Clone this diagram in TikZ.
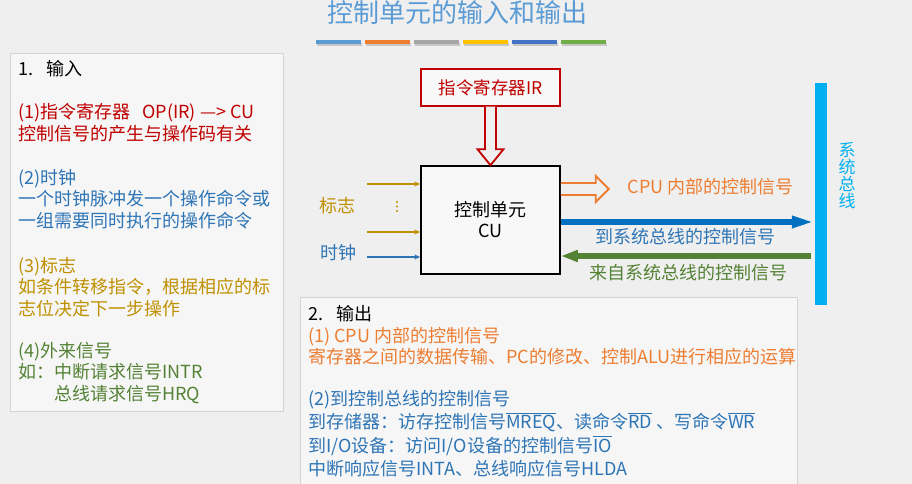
\documentclass[tikz,border=0pt]{standalone}
\usepackage{fontspec}
\setmainfont{Noto Sans CJK SC}
\usepackage{tikz}
\usetikzlibrary{arrows.meta,positioning,calc}
\definecolor{pagebg}{HTML}{EFEFEF}
\definecolor{boxbg}{HTML}{F6F6F6}
\definecolor{boxline}{HTML}{D4D4D4}
\definecolor{titleblue}{HTML}{5B9BD5}
\definecolor{irred}{HTML}{C00000}
\definecolor{clkblue}{HTML}{2E75B6}
\definecolor{flaggold}{HTML}{BF9000}
\definecolor{extgreen}{HTML}{548235}
\definecolor{inorange}{HTML}{ED7D31}
\definecolor{outblue}{HTML}{0070C0}
\definecolor{buscyan}{HTML}{00B0F0}
\definecolor{barblue}{HTML}{5B9BD5}
\definecolor{barorange}{HTML}{ED7D31}
\definecolor{bargray}{HTML}{A5A5A5}
\definecolor{bargold}{HTML}{FFC000}
\definecolor{bardark}{HTML}{4472C4}
\definecolor{bargreen}{HTML}{70AD47}
\newcommand{\sigbar}[1]{\leavevmode\vbox{\hrule height 0.9pt\kern1.2pt\hbox{#1}}}
\tikzset{
  sectbox/.style={draw=boxline,line width=0.9pt},
  bodytext/.style={anchor=base west,inner sep=0pt,align=left,
    font=\fontsize{18}{21.5}\selectfont},
  unitbox/.style={draw=black,line width=1.5pt,fill=white!55!pagebg,align=center,
    minimum width=139pt,minimum height=108pt,font=\fontsize{18}{21}\selectfont},
  regbox/.style={draw=irred,line width=1.5pt,fill=white!55!pagebg,text=irred,
    minimum width=139pt,minimum height=37pt,font=\fontsize{17.5}{21}\selectfont},
  signallabel/.style={inner sep=0pt,font=\fontsize{18}{21}\selectfont},
  busbar/.style={fill=buscyan,inner sep=0pt,minimum width=12pt,minimum height=222pt},
  inputarrow/.style={-{Stealth[length=6pt,width=5pt]},line width=1.8pt},
  hollowarrow/.style={line width=1.8pt,fill=pagebg,line join=miter},
  busarrow/.style={-{Triangle[length=23pt,width=11pt]},line width=6pt,draw=outblue},
  backarrow/.style={-{Triangle[length=17pt,width=11pt]},line width=5.5pt,draw=extgreen}
}
\begin{document}
\begin{tikzpicture}[x=1pt,y=-1pt]
  \useasboundingbox[fill=pagebg] (0,0) rectangle (912,484);
  % title and colour strip
  \node[text=titleblue,font=\fontsize{26}{28}\selectfont] (title) at (457,13) {控制单元的输入和输出};
  \foreach \c [count=\i from 0] in {barblue,barorange,bargray,bargold,bardark,bargreen} {
    \fill[black!22] (316+49*\i+1,43) rectangle ++(44.5,3);
    \fill[\c] (316+49*\i,40) rectangle ++(44.5,4);
  }

  % 1. inputs (multi-line nodes sit on the baseline of their last line)
  \draw[sectbox,fill=boxbg] (10,53) rectangle (283,411);
  \node[bodytext] (inhead) at (18,76) {1.\hspace{13pt}输入};
  \node[bodytext,text=irred] (inir) at (18,140.5) {(1)指令寄存器\hspace{12pt}OP(IR) —> CU\\控制信号的产生与操作码有关};
  \node[bodytext,text=clkblue] (inclk) at (18,227) {(2)时钟\\一个时钟脉冲发一个操作命令或\\一组需要同时执行的操作命令};
  \node[bodytext,text=flaggold] (inflag) at (18,315) {(3)标志\\如条件转移指令，根据相应的标\\志位决定下一步操作};
  \node[bodytext,text=extgreen] (inext) at (18,400) {(4)外来信号\\如：中断请求信号INTR\\\hspace*{36pt}总线请求信号HRQ};

  % control unit
  \node[regbox] (ir) at (490.5,87.5) {指令寄存器IR};
  \node[unitbox] (cu) at (490.5,220) {控制单元\\CU};
  \node[busbar] (bus) at (821,194) {};
  \node[signallabel,text=buscyan,align=center,font=\fontsize{17}{17}\selectfont] (buslbl) at (847,176) {系\\统\\总\\线};

  \draw[hollowarrow,draw=irred] ($(ir.south)+(-5.5,0)$) -- ($(cu.north)+(-5.5,-16)$) -- ($(cu.north)+(-13,-16)$)
    -- (cu.north) -- ($(cu.north)+(13,-16)$) -- ($(cu.north)+(5.5,-16)$) -- ($(ir.south)+(5.5,0)$);

  \coordinate (flagin1) at (367,184);
  \coordinate (flagin2) at (367,232);
  \coordinate (clkin) at (367,257);
  \draw[inputarrow,draw=flaggold] (flagin1) -- (flagin1 -| cu.west);
  \draw[inputarrow,draw=flaggold] (flagin2) -- (flagin2 -| cu.west);
  \draw[inputarrow,draw=clkblue] (clkin) -- (clkin -| cu.west);
  \node[signallabel,text=flaggold] (flaglbl) at (337,206) {标志};
  \foreach \y in {202,206.5,211}
    \fill[flaggold] (397,\y) circle (1.2);
  \node[signallabel,text=clkblue] (clklbl) at (338,253) {时钟};

  \coordinate (cpuy) at ($(cu.east)+(0,-31)$);
  \draw[hollowarrow,draw=inorange] ($(cpuy)+(0,-6)$) -- ++(35,0) -- ++(0,-7) -- ++(13,13)
    -- ++(-13,13) -- ++(0,-7) -- ++(-35,0);
  \node[signallabel,text=inorange,anchor=west] (cpulbl) at ($(cpuy)+(67,-2)$) {CPU 内部的控制信号};

  \coordinate (outy) at ($(cu.east)+(0,2)$);
  \draw[busarrow] (outy) -- (outy -| bus.west);
  \node[signallabel,text=clkblue] (tobuslbl) at (685,237) {到系统总线的控制信号};

  \coordinate (iny) at ($(cu.east)+(0,36)$);
  \draw[backarrow] ($(iny -| bus.west)+(-4,0)$) -- (iny);
  \node[signallabel,text=extgreen] (frombuslbl) at (688,273) {来自系统总线的控制信号};

  % 2. outputs
  \fill[boxbg] (300,297) rectangle (797,484);
  \draw[sectbox] (300,484) -- (300,297) -- (797,297) -- (797,484);
  \node[bodytext] (outhead) at (308,320) {2.\hspace{13pt}输出};
  \node[bodytext,text=inorange] (outcpu) at (308,363.5) {(1) CPU 内部的控制信号\\寄存器之间的数据传输、PC的修改、控制ALU进行相应的运算};
  \node[bodytext,text=clkblue,font=\fontsize{18}{23.5}\selectfont] (outbus) at (308,475.5)
    {(2)到控制总线的控制信号\\到存储器：访存控制信号\sigbar{MREQ}、读命令\sigbar{RD} 、写命令\sigbar{WR}\\到I/O设备：访问I/O设备的控制信号\sigbar{IO}\\中断响应信号INTA、总线响应信号HLDA};
\end{tikzpicture}
\end{document}
